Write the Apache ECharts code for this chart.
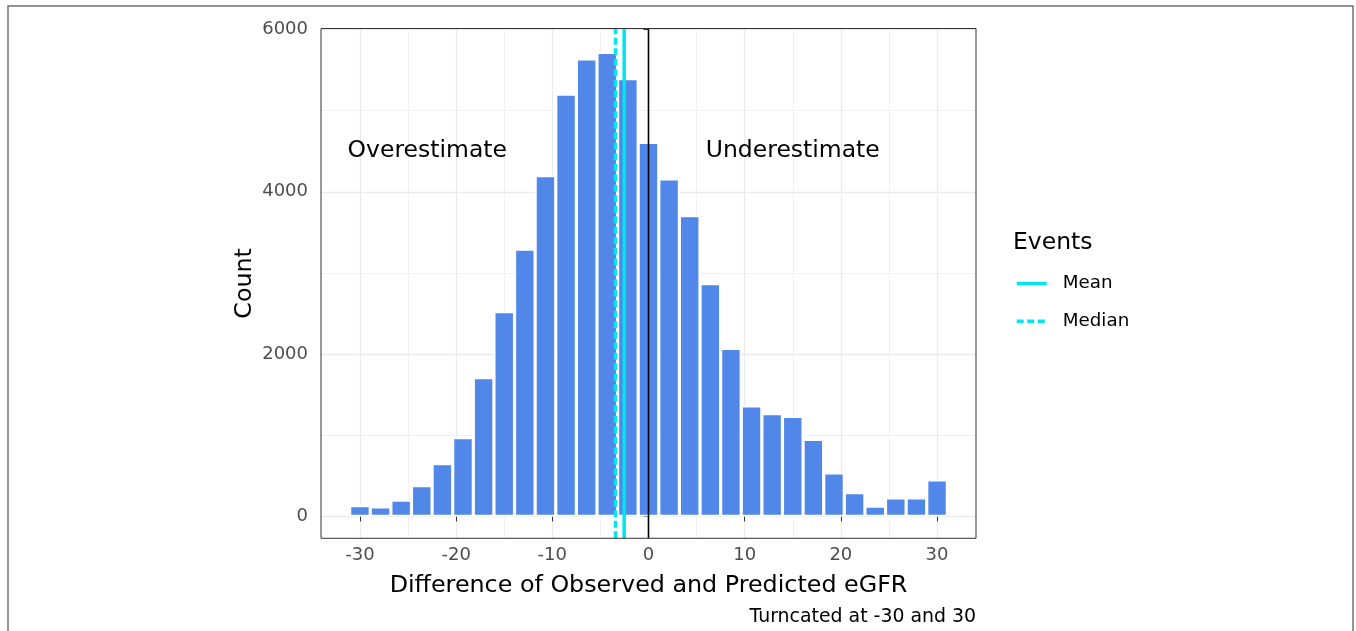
<!DOCTYPE html>
<html>
<head>
<meta charset="utf-8">
<script src="https://cdn.jsdelivr.net/npm/echarts@6/dist/echarts.min.js"></script>
<style>
html,body{margin:0;padding:0;background:#fff;}
#chart{width:1356px;height:631px;}
</style>
</head>
<body>
<div id="chart"></div>
<script>
// ---- data ----
const binCenters = [-30, -27.857, -25.714, -23.571, -21.429, -19.286, -17.143, -15, -12.857, -10.714,
  -8.571, -6.429, -4.286, -2.143, 0, 2.143, 4.286, 6.429, 8.571, 10.714,
  12.857, 15, 17.143, 19.286, 21.429, 23.571, 25.714, 27.857, 30];
const counts = [133, 117, 200, 379, 649, 970, 1711, 2523, 3293, 4200,
  5203, 5636, 5716, 5395, 4608, 4158, 3705, 2868, 2069, 1361,
  1265, 1232, 949, 537, 291, 125, 229, 229, 450];
const MEAN = -2.53;
const MEDIAN = -3.43;
const xTicks = [-30, -20, -10, 0, 10, 20, 30];
const xMinor = [-25, -15, -5, 5, 15, 25];
const yTicks = [0, 2000, 4000, 6000];
const yMinor = [1000, 3000, 5000];
const annotations = [[-23, 4500, 'Overestimate'], [15, 4500, 'Underestimate']];
const X_RANGE = [-34.05, 34.05];
const Y_RANGE = [-270, 6012];

const FONT = 'DejaVu Sans';
const chart = echarts.init(document.getElementById('chart'), null, {renderer: 'canvas'});

function vLines(vals) { return vals.map(v => ({coords: [[v, Y_RANGE[0]], [v, Y_RANGE[1]]]})); }
function hLines(vals) { return vals.map(v => ({coords: [[X_RANGE[0], v], [X_RANGE[1], v]]})); }

const option = {
  animation: false,
  backgroundColor: '#ffffff',
  textStyle: {fontFamily: FONT},
  grid: {left: 321, right: 380, top: 28.5, bottom: 92.7, show: true, borderColor: '#333333', borderWidth: 1, backgroundColor: 'transparent', z: 10},
  title: {
    text: 'Events', left: 1008, top: 226,
    textStyle: {fontFamily: FONT, fontSize: 23.5, fontWeight: 'normal', color: '#000'}
  },
  legend: {
    orient: 'vertical', left: 1010, top: 268.5, itemWidth: 30, itemHeight: 14, itemGap: 17.7,
    data: ['Mean', 'Median'],
    itemStyle: {opacity: 0, borderWidth: 0},
    lineStyle: {width: 3.5},
    textStyle: {fontFamily: FONT, fontSize: 18.3, color: '#000', lineHeight: 20, padding: [0, 0, 0, 11]}
  },
  xAxis: {
    type: 'value', min: X_RANGE[0], max: X_RANGE[1],
    axisLine: {show: false},
    axisTick: {show: true, customValues: xTicks, length: 5, lineStyle: {color: '#333333', width: 1}},
    axisLabel: {customValues: xTicks, color: '#4D4D4D', fontSize: 18, fontFamily: FONT, margin: 8},
    splitLine: {show: false},
    name: 'Difference of Observed and Predicted eGFR', nameLocation: 'middle', nameGap: 36,
    nameTextStyle: {fontFamily: FONT, fontSize: 23.8, color: '#000'}
  },
  yAxis: {
    type: 'value', min: Y_RANGE[0], max: Y_RANGE[1],
    axisLine: {show: false},
    axisTick: {show: true, customValues: yTicks, length: 5, lineStyle: {color: '#333333', width: 1}},
    axisLabel: {customValues: yTicks, color: '#4D4D4D', fontSize: 18, fontFamily: FONT, margin: 13, formatter: v => String(v)},
    splitLine: {show: false},
    name: 'Count', nameLocation: 'middle', nameRotate: 90, nameGap: 64,
    nameTextStyle: {fontFamily: FONT, fontSize: 23.8, color: '#000'}
  },
  graphic: [
    {type: 'rect', shape: {x: 8, y: 6, width: 1345, height: 700}, style: {fill: 'none', stroke: '#707070', lineWidth: 1.5}, silent: true},
    {type: 'text', style: {text: 'Turncated at -30 and 30', x: 976, y: 617, align: 'right', verticalAlign: 'middle', font: '18.9px "DejaVu Sans"', fill: '#000'}, silent: true}
  ],
  series: [
    {type: 'lines', coordinateSystem: 'cartesian2d', z: 0, silent: true, lineStyle: {color: '#EBEBEB', width: 0.7, opacity: 1}, data: vLines(xMinor).concat(hLines(yMinor))},
    {type: 'lines', coordinateSystem: 'cartesian2d', z: 0, silent: true, lineStyle: {color: '#EBEBEB', width: 1.3, opacity: 1}, data: vLines(xTicks).concat(hLines(yTicks))},
    {
      type: 'bar', name: 'count', z: 2, barWidth: 20.6, silent: true,
      itemStyle: {color: '#5087E8', borderColor: '#ffffff', borderWidth: 1.6},
      data: binCenters.map((x, i) => [x, counts[i]])
    },
    {
      type: 'line', name: 'zero', z: 3, symbol: 'none', silent: true,
      lineStyle: {color: '#000000', width: 1.6},
      data: [[0, Y_RANGE[0]], [0, Y_RANGE[1]]]
    },
    {
      type: 'line', name: 'Median', z: 4, symbol: 'none', silent: true, color: '#00E5EE',
      lineStyle: {color: '#00E5EE', width: 3.5, type: [7, 3.5]},
      data: [[MEDIAN, Y_RANGE[0]], [MEDIAN, Y_RANGE[1]]]
    },
    {
      type: 'line', name: 'Mean', z: 4, symbol: 'none', silent: true, color: '#00E5EE',
      lineStyle: {color: '#00E5EE', width: 3.5},
      data: [[MEAN, Y_RANGE[0]], [MEAN, Y_RANGE[1]]]
    },
    {
      type: 'scatter', name: 'annot', z: 5, symbolSize: 0, silent: true,
      itemStyle: {opacity: 1},
      label: {show: true, position: 'inside', formatter: p => p.data[2], fontFamily: FONT, fontSize: 23.5, color: '#000000', opacity: 1, textBorderWidth: 0, textBorderColor: 'transparent'},
      data: annotations
    }
  ]
};
chart.setOption(option);
</script>
</body>
</html>
